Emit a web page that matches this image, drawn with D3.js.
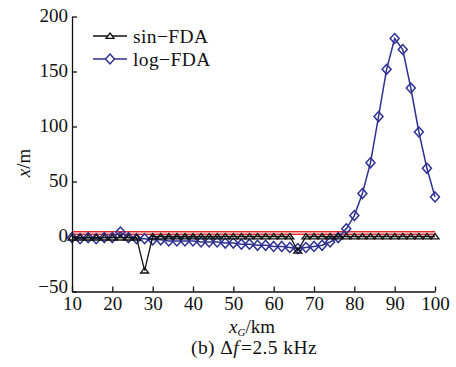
<!DOCTYPE html>
<html>
<head>
<meta charset="utf-8">
<script src="https://cdn.jsdelivr.net/npm/d3@7"></script>
<style>
  html, body { margin: 0; padding: 0; background: #fff; }
  svg { display: block; }
  text { font-family: "Liberation Serif", "Times New Roman", serif; fill: #111; }
</style>
</head>
<body>
<div id="chart"></div>
<script>
// Ground distance x_G (km) of each sample
const distanceKm = [10, 12, 14, 16, 18, 20, 22, 24, 26, 28, 30, 32, 34, 36, 38, 40,
  42, 44, 46, 48, 50, 52, 54, 56, 58, 60, 62, 64, 66, 68, 70, 72, 74, 76, 78, 80,
  82, 84, 86, 88, 90, 92, 94, 96, 98, 100];

// Position error x (m) for sin-FDA
const sinFDA = [-1, -1, -1, -1, -1, -1, -1, -1, -1, -31, 0, 0, 0, 0, 0, 0,
  0, 0, 0, 0, 0, 0, 0, 0, 0, 0, 0, 0, -13, 0, 0, 0, 0, 0, 0, 0,
  0, 0, 0, 0, 0, 0, 0, 0, 0, 0];

// Position error x (m) for log-FDA
const logFDA = [-1, -2, -1, -2, -1, -1, 4, -1, -2, -2, -3, -3, -4, -4, -4, -4,
  -5, -5, -5, -6, -6, -7, -7, -8, -8, -9, -9, -10, -11, -10, -9, -8, -5, -1, 7, 19,
  39, 67, 109, 152, 180, 170, 135, 95, 62, 36];

// Reference band drawn in red across the whole range
const refLevels = [4.5, 2.0];

const xTicks = [10, 20, 30, 40, 50, 60, 70, 80, 90, 100];
const yTicks = [-50, 0, 50, 100, 150, 200];
const seriesNames = ["sin\u2212FDA", "log\u2212FDA"];

const W = 456, H = 367;
const svg = d3.select("#chart").append("svg").attr("width", W).attr("height", H);

const x = d3.scaleLinear().domain([10, 100]).range([72, 435]);
const y = d3.scaleLinear().domain([-50, 200]).range([291.5, 16.5]);

const BLUE = "#2e3193", BLACK = "#111", RED = "#e8262b";

// reference band
svg.append("rect")
  .attr("x", x(10)).attr("width", x(100) - x(10))
  .attr("y", y(refLevels[0])).attr("height", y(refLevels[1]) - y(refLevels[0]))
  .attr("fill", "#f6c9c9");
refLevels.forEach(v => {
  svg.append("line")
    .attr("x1", x(10)).attr("x2", x(100))
    .attr("y1", y(v)).attr("y2", y(v))
    .attr("stroke", RED).attr("stroke-width", 1.2);
});

const line = d3.line().x((d, i) => x(distanceKm[i])).y(d => y(d));

const diamond = s => `M0,${-s}L${s * 0.9},0L0,${s}L${-s * 0.9},0Z`;
const triangle = s => `M0,${-s * 0.75}L${s},${s * 0.6}L${-s},${s * 0.6}Z`;

// log-FDA
svg.append("path").datum(logFDA)
  .attr("d", line).attr("fill", "none")
  .attr("stroke", BLUE).attr("stroke-width", 1.5);
svg.append("g").selectAll("path").data(logFDA).join("path")
  .attr("transform", (d, i) => `translate(${x(distanceKm[i])},${y(d)})`)
  .attr("d", diamond(5))
  .attr("fill", "none").attr("stroke", BLUE).attr("stroke-width", 1.5);

// sin-FDA
svg.append("path").datum(sinFDA)
  .attr("d", line).attr("fill", "none")
  .attr("stroke", BLACK).attr("stroke-width", 1.3);
svg.append("g").selectAll("path").data(sinFDA).join("path")
  .attr("transform", (d, i) => `translate(${x(distanceKm[i])},${y(d)})`)
  .attr("d", triangle(4))
  .attr("fill", "none").attr("stroke", BLACK).attr("stroke-width", 1.3);

// axes (ticks point inward)
const fmt = d3.format("d");
const xAxis = svg.append("g").attr("transform", `translate(0,${y(-50)})`)
  .call(d3.axisBottom(x).tickValues(xTicks).tickFormat(fmt).tickSizeInner(-5).tickSizeOuter(0).tickPadding(5));
const yAxis = svg.append("g").attr("transform", `translate(${x(10)},0)`)
  .call(d3.axisLeft(y).tickValues(yTicks).tickFormat(fmt).tickSizeInner(-5).tickSizeOuter(0).tickPadding(4));
[xAxis, yAxis].forEach(g => {
  g.select(".domain").attr("stroke", BLACK).attr("stroke-width", 1.3);
  g.selectAll(".tick line").attr("stroke", BLACK).attr("stroke-width", 1.3);
  g.selectAll(".tick text").attr("font-size", 19)
    .attr("font-family", "Liberation Serif, serif").attr("fill", "#111");
});
// y labels sit slightly above their ticks; the lowest one is lifted clear of the x labels
yAxis.selectAll(".tick text")
  .attr("dy", d => d === -50 ? "0.05em" : "0.25em");

// axis titles
const yl = svg.append("text")
  .attr("transform", "translate(30,163) rotate(-90)")
  .attr("text-anchor", "middle").attr("font-size", 19);
yl.append("tspan").attr("font-style", "italic").text("x");
yl.append("tspan").text("/m");

const xl = svg.append("text")
  .attr("x", 252).attr("y", 333)
  .attr("text-anchor", "middle").attr("font-size", 19);
xl.append("tspan").attr("font-style", "italic").text("x");
xl.append("tspan").attr("font-style", "italic").attr("font-size", 11).attr("dy", 3).text("G");
xl.append("tspan").attr("dy", -3).text("/km");

const cap = svg.append("text")
  .attr("x", 254).attr("y", 354)
  .attr("text-anchor", "middle").attr("font-size", 19.5)
  .attr("letter-spacing", 0.4);
cap.append("tspan").text("(b) \u0394");
cap.append("tspan").attr("font-style", "italic").text("f");
cap.append("tspan").attr("dx", 2).text("=2.5 kHz");

// legend
const legend = svg.append("g");
const legendRows = [
  { name: seriesNames[0], color: BLACK, shape: triangle(4), w: 1.3 },
  { name: seriesNames[1], color: BLUE, shape: diamond(5), w: 1.5 }
];
legendRows.forEach((r, i) => {
  const cy = 36 + i * 23;
  legend.append("line").attr("x1", 93).attr("x2", 127).attr("y1", cy).attr("y2", cy)
    .attr("stroke", r.color).attr("stroke-width", r.w);
  legend.append("path").attr("transform", `translate(110,${cy})`).attr("d", r.shape)
    .attr("fill", "#fff").attr("stroke", r.color).attr("stroke-width", r.w);
  legend.append("text").attr("x", 133).attr("y", cy + 6.5)
    .attr("font-size", 19.5).attr("letter-spacing", 0.4).text(r.name);
});
</script>
</body>
</html>
